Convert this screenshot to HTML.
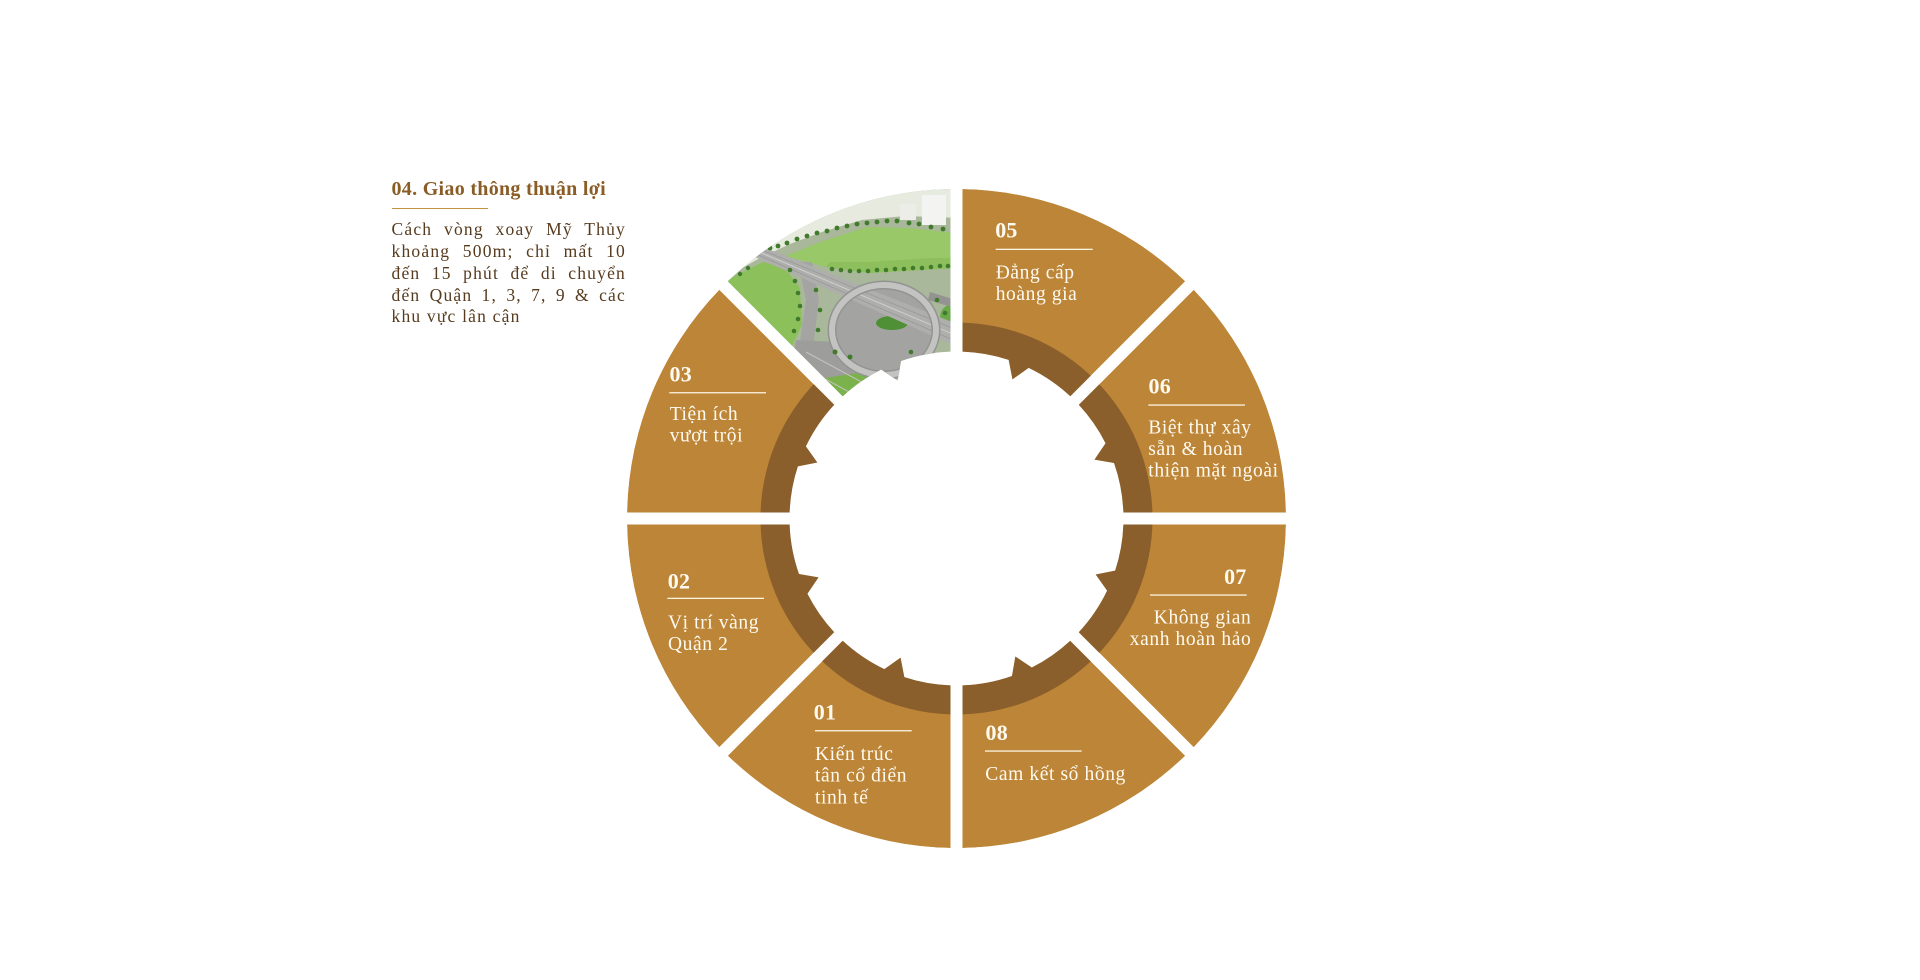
<!DOCTYPE html>
<html>
<head>
<meta charset="utf-8">
<style>
  html,body{margin:0;padding:0;background:#fff;}
  body{width:1920px;height:980px;position:relative;overflow:hidden;}
  .hd{position:absolute;left:391.5px;top:178px;white-space:nowrap;
      font-family:"Liberation Serif","DejaVu Serif",serif;font-weight:bold;
      font-size:20px;line-height:22px;letter-spacing:0.3px;color:#8a5d27;}
  .ul{position:absolute;left:391.7px;top:207.8px;width:96.6px;height:1.1px;background:#c4913f;}
  .body{position:absolute;left:391.5px;top:219.4px;width:234.5px;
        font-family:"Liberation Serif","DejaVu Serif",serif;font-size:17.5px;line-height:21.75px;
        letter-spacing:1.2px;color:#573b1e;}
  .body div{white-space:nowrap;}
  .body .j{text-align:justify;text-align-last:justify;white-space:normal;}
  svg text{font-family:"Liberation Serif","DejaVu Serif",serif;}
  .n{font-weight:bold;font-size:22px;letter-spacing:0.2px;fill:#fffaf0;}
  .t{font-size:19.5px;letter-spacing:0.6px;fill:#fffaf0;}
</style>
</head>
<body>
<svg width="1920" height="980" viewBox="0 0 1920 980" style="position:absolute;left:0;top:0">
  <defs>
    <path id="seg" d="M6,-329.45 A329.5,329.5 0 0 1 228.71,-237.19 L113.77,-122.25 A167,167 0 0 0 72.16,-150.61 L55.95,-139.18 L52.16,-158.64 A167,167 0 0 0 6,-166.89 Z"/>
    <clipPath id="sc"><path d="M6,-329.45 A329.5,329.5 0 0 1 228.71,-237.19 L113.77,-122.25 A167,167 0 0 0 72.16,-150.61 L55.95,-139.18 L52.16,-158.64 A167,167 0 0 0 6,-166.89 Z"/></clipPath>
    <clipPath id="ic"><path transform="translate(956.5,518.5) rotate(315)" d="M6,-329.45 A329.5,329.5 0 0 1 228.71,-237.19 L113.77,-122.25 A167,167 0 0 0 72.16,-150.61 L55.95,-139.18 L52.16,-158.64 A167,167 0 0 0 6,-166.89 Z"/></clipPath>
  </defs>

  <g transform="translate(956.5,518.5)">
    <g transform="rotate(0)"><g clip-path="url(#sc)"><use href="#seg" fill="#bd8537"/><circle r="196" fill="#8a5f2c"/></g></g>
    <g transform="rotate(45)"><g clip-path="url(#sc)"><use href="#seg" fill="#bd8537"/><circle r="196" fill="#8a5f2c"/></g></g>
    <g transform="rotate(90)"><g clip-path="url(#sc)"><use href="#seg" fill="#bd8537"/><circle r="196" fill="#8a5f2c"/></g></g>
    <g transform="rotate(135)"><g clip-path="url(#sc)"><use href="#seg" fill="#bd8537"/><circle r="196" fill="#8a5f2c"/></g></g>
    <g transform="rotate(180)"><g clip-path="url(#sc)"><use href="#seg" fill="#bd8537"/><circle r="196" fill="#8a5f2c"/></g></g>
    <g transform="rotate(225)"><g clip-path="url(#sc)"><use href="#seg" fill="#bd8537"/><circle r="196" fill="#8a5f2c"/></g></g>
    <g transform="rotate(270)"><g clip-path="url(#sc)"><use href="#seg" fill="#bd8537"/><circle r="196" fill="#8a5f2c"/></g></g>
  </g>

  <!-- image segment (04) -->
  <g clip-path="url(#ic)">
    <rect x="700" y="180" width="262" height="232" fill="#a9b79a"/>
    <path d="M700,180 H962 V218 L905,216 L862,220 L822,232 L790,244 L760,258 L735,272 L700,288 Z" fill="#e6eadf"/>
    <!-- big field -->
    <path d="M786,256 L820,242 L867,227 L910,228 L962,234 V268 L920,270 L870,273 L826,267 Z" fill="#98c867"/>
    <path d="M830,262 L870,262 L930,258 L962,258 V268 L920,270 L870,273 L826,267 Z" fill="#8dbf5c"/>
    <!-- left field -->
    <path d="M700,290 L727,280 L763,262 L785,268 L800,288 L802,325 L792,346 L770,336 L740,316 Z" fill="#8cc05a"/>
    <!-- left road -->
    <path d="M798,262 L812,262 L819,300 L813,348 L799,348 L806,300 Z" fill="#a4a5a3"/>
    <!-- bottom roads -->
    <path d="M796,340 L882,344 L905,405 L785,405 Z" fill="#9d9e9c"/>
    <path d="M812,380 L890,368 L905,405 L826,405 Z" fill="#7bb24b"/>
    <line x1="806" y1="352" x2="880" y2="392" stroke="#c4c4c2" stroke-width="1"/>
    <line x1="800" y1="365" x2="860" y2="398" stroke="#c4c4c2" stroke-width="1"/>
    <!-- loop surface -->
    <ellipse cx="884" cy="330" rx="52" ry="45" fill="#a3a4a1"/>
    <ellipse cx="892" cy="323" rx="16" ry="7" fill="#4f8f35"/>
    <ellipse cx="950" cy="318" rx="10" ry="13" fill="#6aa84a"/>
    <!-- main highway -->
    <path d="M758,245 L962,326 L962,349 L755,257 Z" fill="#aeafad"/>
    <line x1="757" y1="251" x2="962" y2="338" stroke="#cfcfcd" stroke-width="1"/>
    <line x1="757" y1="248" x2="962" y2="332" stroke="#989997" stroke-width="0.8"/>
    <line x1="756" y1="254" x2="962" y2="344" stroke="#989997" stroke-width="0.8"/>
    <!-- loop ramp -->
    <ellipse cx="884" cy="330" rx="52" ry="45" fill="none" stroke="#939491" stroke-width="9"/>
    <ellipse cx="884" cy="330" rx="52" ry="45" fill="none" stroke="#c3c3c1" stroke-width="6"/>
    <path d="M930,292 L962,302 L962,310 L928,300 Z" fill="#939491"/>
    <!-- building -->
    <rect x="922" y="195" width="24" height="30" fill="#f3f3f1"/>
    <rect x="900" y="204" width="16" height="16" fill="#ecece8"/>
    <!-- trees -->
    <g fill="#3f7b2b">
      <circle cx="770" cy="248" r="2.4"/><circle cx="778" cy="246" r="2.4"/><circle cx="787" cy="243" r="2.4"/>
      <circle cx="797" cy="239" r="2.4"/><circle cx="807" cy="236" r="2.4"/><circle cx="817" cy="233" r="2.4"/>
      <circle cx="827" cy="231" r="2.4"/><circle cx="837" cy="228" r="2.4"/><circle cx="847" cy="226" r="2.4"/>
      <circle cx="857" cy="224" r="2.4"/><circle cx="867" cy="223" r="2.4"/><circle cx="877" cy="222" r="2.4"/>
      <circle cx="887" cy="221" r="2.4"/><circle cx="897" cy="221" r="2.4"/><circle cx="909" cy="223" r="2.4"/>
      <circle cx="919" cy="224" r="2.4"/><circle cx="931" cy="227" r="2.4"/><circle cx="943" cy="229" r="2.4"/>
      <circle cx="832" cy="269" r="2.3"/><circle cx="841" cy="270" r="2.3"/><circle cx="850" cy="271" r="2.3"/>
      <circle cx="859" cy="271" r="2.3"/><circle cx="868" cy="271" r="2.3"/><circle cx="877" cy="270" r="2.3"/>
      <circle cx="886" cy="270" r="2.3"/><circle cx="895" cy="269" r="2.3"/><circle cx="904" cy="269" r="2.3"/>
      <circle cx="913" cy="268" r="2.3"/><circle cx="922" cy="268" r="2.3"/><circle cx="931" cy="267" r="2.3"/>
      <circle cx="940" cy="266" r="2.3"/><circle cx="948" cy="266" r="2.3"/>
      <circle cx="790" cy="270" r="2.3"/><circle cx="795" cy="281" r="2.3"/><circle cx="798" cy="293" r="2.3"/>
      <circle cx="800" cy="306" r="2.3"/><circle cx="798" cy="319" r="2.3"/><circle cx="794" cy="331" r="2.3"/>
      <circle cx="816" cy="290" r="2.3"/><circle cx="820" cy="310" r="2.3"/><circle cx="818" cy="330" r="2.3"/>
      <circle cx="835" cy="352" r="2.5"/><circle cx="850" cy="357" r="2.5"/><circle cx="862" cy="386" r="2.5"/>
      <circle cx="877" cy="390" r="2.5"/><circle cx="812" cy="381" r="2.5"/><circle cx="826" cy="396" r="2.5"/>
      <circle cx="937" cy="300" r="2.3"/><circle cx="945" cy="313" r="2.3"/><circle cx="911" cy="352" r="2.3"/>
      <circle cx="748" cy="268" r="2.2"/><circle cx="740" cy="274" r="2.2"/>
    </g>
  </g>

  <!-- segment texts -->
  <!-- 05 -->
  <text class="n" x="995.2" y="237.3">05</text>
  <rect x="995.7" y="248.7" width="97" height="1.3" fill="#fbf3e3"/>
  <text class="t" x="995.7" y="278.3">Đẳng cấp</text>
  <text class="t" x="995.7" y="300">hoàng gia</text>
  <!-- 06 -->
  <text class="n" x="1148.5" y="393.3">06</text>
  <rect x="1148.3" y="404.4" width="96.7" height="1.3" fill="#fbf3e3"/>
  <text class="t" x="1148.3" y="433.3">Biệt thự xây</text>
  <text class="t" x="1148.3" y="455">sẵn &amp; hoàn</text>
  <text class="t" x="1148.3" y="476.7">thiện mặt ngoài</text>
  <!-- 07 -->
  <text class="n" x="1246.5" y="584" text-anchor="end">07</text>
  <rect x="1150" y="594.4" width="96.7" height="1.3" fill="#fbf3e3"/>
  <text class="t" x="1251.3" y="623.3" text-anchor="end">Không gian</text>
  <text class="t" x="1251.3" y="645" text-anchor="end">xanh hoàn hảo</text>
  <!-- 08 -->
  <text class="n" x="985.5" y="740">08</text>
  <rect x="985" y="750.4" width="96.7" height="1.3" fill="#fbf3e3"/>
  <text class="t" x="985.3" y="780">Cam kết sổ hồng</text>
  <!-- 01 -->
  <text class="n" x="813.8" y="719.3">01</text>
  <rect x="815" y="730.1" width="96.7" height="1.3" fill="#fbf3e3"/>
  <text class="t" x="815" y="760">Kiến trúc</text>
  <text class="t" x="815" y="781.7">tân cổ điển</text>
  <text class="t" x="815" y="803.3">tinh tế</text>
  <!-- 02 -->
  <text class="n" x="667.8" y="588.3">02</text>
  <rect x="667.3" y="597.7" width="96.7" height="1.3" fill="#fbf3e3"/>
  <text class="t" x="668" y="628.3">Vị trí vàng</text>
  <text class="t" x="668" y="650">Quận 2</text>
  <!-- 03 -->
  <text class="n" x="669.5" y="381.7">03</text>
  <rect x="669.3" y="392.1" width="96.7" height="1.3" fill="#fbf3e3"/>
  <text class="t" x="669.7" y="420">Tiện ích</text>
  <text class="t" x="669.7" y="441.7">vượt trội</text>
</svg>

<div class="hd">04. Giao thông thuận lợi</div>
<div class="ul"></div>
<div class="body">
  <div class="j">Cách vòng xoay Mỹ Thủy</div>
  <div class="j">khoảng 500m; chỉ mất 10</div>
  <div class="j">đến 15 phút để di chuyển</div>
  <div class="j">đến Quận 1, 3, 7, 9 &amp; các</div>
  <div>khu vực lân cận</div>
</div>
</body>
</html>
